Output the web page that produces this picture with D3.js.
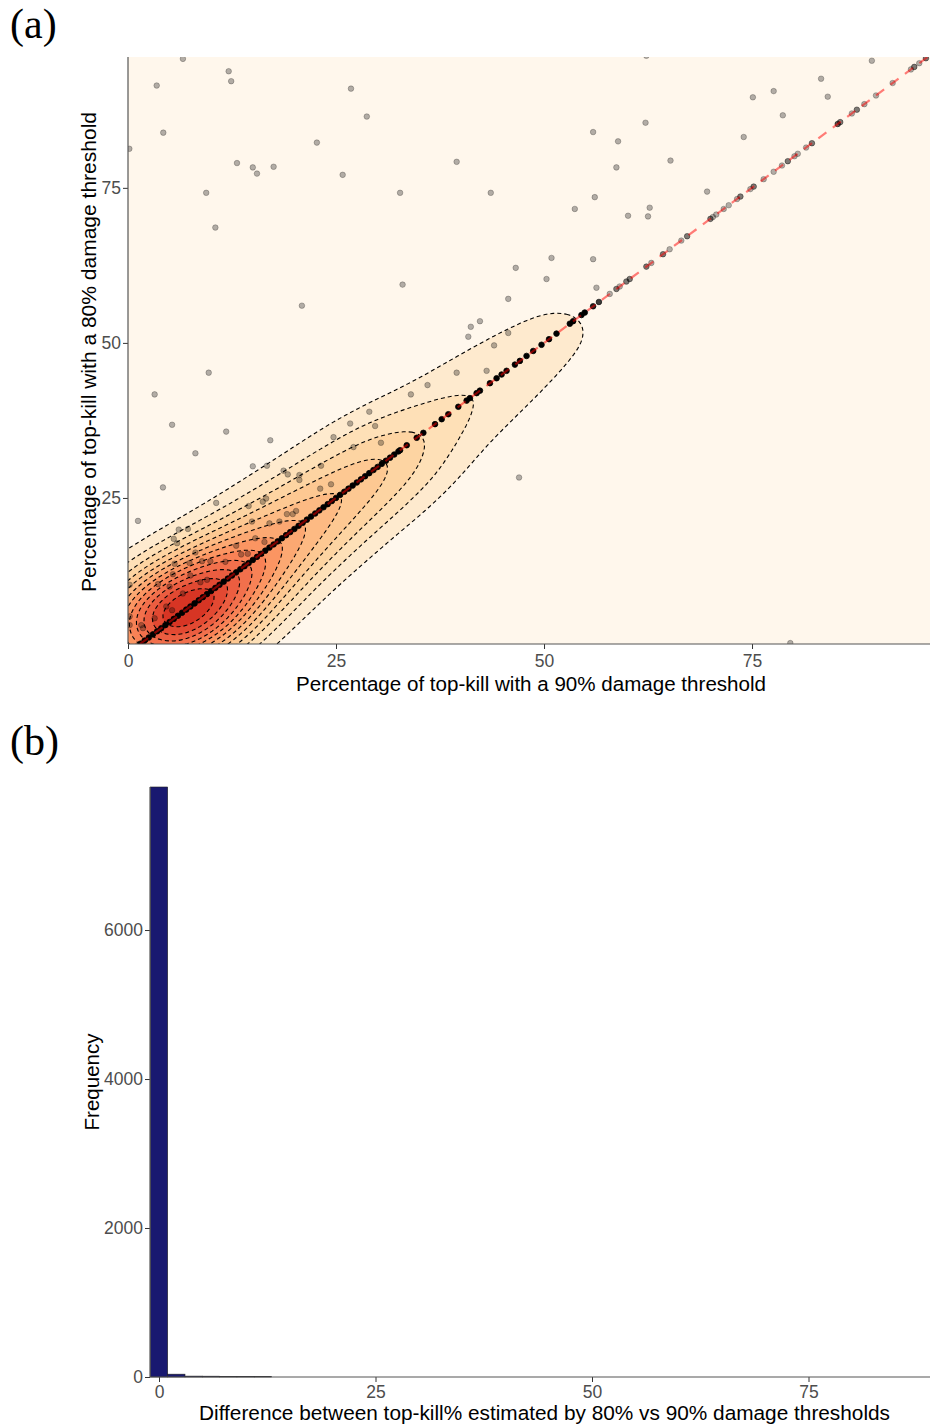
<!DOCTYPE html>
<html><head><meta charset="utf-8">
<script src="https://cdn.jsdelivr.net/npm/d3@7"></script>
<style>body{margin:0;background:#fff}svg{display:block}</style>
</head><body>
<svg id="c" width="930" height="1427"></svg>
<script>
// ---------------- DATA ----------------
// Panel (a): off-diagonal scatter points (x = 90% threshold, y = 80% threshold)
const scatterX = [0.16,6.6,3.45,12.1,12.4,4.24,22.7,13.1,15.0,15.5,17.5,9.4,10.5,20.9,26.8,28.7,25.8,32.7,39.5,43.6,33.0,50.9,46.6,50.3,55.9,56.3,45.7,53.7,56.1,55.9,62.3,62.2,58.9,58.7,65.2,69.6,74.0,75.1,77.6,78.7,83.3,84.1,89.4,60.1,62.5,62.7,
  41.2,42.3,40.9,45.7,44.0,39.5,43.1,36.0,34.0,47.0,79.6,
  9.7,3.2,5.3,11.8,17.1,8.1,4.2,1.2,15.0,16.7,18.7,19.2,20.6,20.6,23.2,24.7,27.1,26.7,29.0,29.7,30.4,23.1,24.4,10.6,14.5,16.2,16.6,19.1,19.8,20.2,14.9,17.0,18.2,5.5,6.1,7.2,5.9,15.3,16.4,13.0,14.4,13.6,8.1,9.9,8.9,11.7,7.4,5.6,3.6,5.4,7.5,8.7,9.5,5.0,6.6,4.6,5.3,3.2,1.6,1.8,0.2,0.2,0.2];
const scatterY = [81.3,95.8,91.5,93.8,92.2,83.9,82.3,79.0,78.3,77.3,78.4,74.2,68.6,56.0,91.0,86.5,77.1,74.2,79.2,74.2,59.4,63.7,62.1,60.3,63.5,58.9,57.1,71.6,73.5,84.0,96.3,85.5,82.5,78.3,79.4,74.4,83.2,89.6,90.6,86.7,92.6,89.7,95.5,70.5,70.4,71.8,
  52.6,53.5,51.0,51.6,49.6,45.2,45.5,43.2,41.7,28.3,1.6,
  45.2,41.7,36.8,35.7,34.3,32.2,26.7,21.3,30.1,30.2,29.4,28.8,28.7,27.9,30.2,34.8,33.2,37.0,38.9,36.6,33.9,26.5,27.2,24.2,23.7,24.4,24.9,22.4,22.4,22.9,21.2,20.9,21.2,18.4,19.9,20.0,17.7,18.5,17.9,17.3,16.0,15.9,16.2,14.8,14.8,14.7,14.5,14.4,11.1,12.7,12.5,11.4,11.8,10.7,9.6,7.5,6.9,5.6,4.5,4.0,4.5,5.9,11.0];
// Panel (a): points lying on the 1:1 line (x = y) and how many trees share each value
const diagValues = [1.0,1.5,2.0,2.5,3.0,3.5,4.0,4.5,5.0,5.5,6.0,6.5,7.0,7.5,8.0,8.5,9.0,9.5,10.0,10.5,11.0,11.5,12.0,12.5,13.0,13.5,14.0,14.5,15.0,15.5,16.0,16.5,17.0,17.5,18.0,18.5,19.0,19.5,20.0,20.5,21.0,21.5,22.0,22.5,23.0,23.5,24.0,24.5,25.0,25.5,26.0,26.5,27.0,27.5,28.0,28.5,29.0,29.5,30.0,30.5,31.0,31.5,32.0,32.5,
  32.7,33.5,34.7,35.5,36.9,37.7,38.5,39.7,40.7,41.1,41.9,42.3,43.5,44.3,44.9,45.5,46.5,47.1,47.9,48.7,49.7,50.6,51.5,53.1,53.5,54.5,54.9,55.9,56.6,
  57.9,58.7,59.1,59.9,60.3,62.3,62.9,64.3,65.1,66.5,67.2,70.0,70.3,70.7,71.6,72.2,73.2,73.6,74.8,75.2,76.4,77.6,78.6,79.3,80.1,80.5,81.5,82.2,85.3,85.6,87.0,87.6,88.5,89.9,91.9,94.1,94.5,95.1,95.9];
const diagCounts = [110,125,140,152,162,170,175,178,180,180,178,175,170,165,160,154,148,142,136,130,124,118,113,108,103,99,95,91,88,85,82,79,77,75,73,71,69,67,66,64,63,62,61,60,59,58,57,56,55,54,53,52,51,50,49,48,47,47,46,45,45,44,43,43,
  70,66,58,54,48,45,42,40,36,34,32,31,30,29,28,27,26,25,25,24,25,28,30,34,30,26,22,6,4,
  1,2,1,2,2,2,1,2,1,1,2,2,1,1,1,1,1,2,1,2,1,1,1,2,1,1,1,2,3,2,1,2,1,1,1,1,2,1,2];
const xTicksA = [0,25,50,75];
const yTicksA = [25,50,75];
// Panel (b): histogram of differences
const binStart  = [-1,1,3,5,7,9,11];
const binEnd    = [1,3,5,7,9,11,13];
const binCounts = [7920,38,12,11,9,8,6];
const xTicksB = [0,25,50,75];
const yTicksB = [0,2000,4000,6000];

// ---------------- DRAW ----------------
const svg = d3.select("#c");
const SANS = "'Liberation Sans', Arial, sans-serif";
const SERIF = "'Liberation Serif', 'Times New Roman', serif";
const tickColor = "#4d4d4d";

// ---- Panel (a)
const A = {l:128, r:930, t:57, b:644};
const xA = d3.scaleLinear([0, 96.39], [A.l, A.r]);
const yA = d3.scaleLinear([1.45, 96.1], [A.b, A.t]);

svg.append("clipPath").attr("id","clipA").append("rect")
  .attr("x",A.l).attr("y",A.t).attr("width",A.r-A.l).attr("height",A.b-A.t);
const gA = svg.append("g");
const plotA = gA.append("g").attr("clip-path","url(#clipA)");

// 2-D kernel density (computed in data space so the kernel is the same in x and y data units)
const pts = [];
scatterX.forEach((x,i)=>pts.push({x, y:scatterY[i], w:1}));
diagValues.forEach((v,i)=>pts.push({x:v, y:v, w:diagCounts[i]}));
const K = 4, OFF = 25;
const dens = d3.contourDensity()
  .x(d=>(d.x+OFF)*K).y(d=>(d.y+OFF)*K).weight(d=>d.w)
  .size([(96.4+2*OFF)*K, (96.4+2*OFF)*K])
  .cellSize(2).bandwidth(5*K);
const cont = dens.contours(pts);
const max = cont.max;
const proj = d3.geoTransform({point(px,py){ this.stream.point(xA(px/K-OFF), yA(py/K-OFF)); }});
const path = d3.geoPath(proj);

const NL = 12;
const levels = d3.range(1, NL+1).map(i=>max*i/(NL+1));
const bandColor = k => d3.interpolateOrRd(0.74*Math.pow(k/NL, 0.8));

plotA.append("rect").attr("x",A.l).attr("y",A.t).attr("width",A.r-A.l).attr("height",A.b-A.t)
  .attr("fill", bandColor(0));
plotA.append("g").selectAll("path").data(levels).join("path")
  .attr("d", t=>path(cont(t))).attr("fill", (t,i)=>bandColor(i+1)).attr("stroke","none");
plotA.append("g").selectAll("path").data(levels).join("path")
  .attr("d", t=>path(cont(t))).attr("fill","none").attr("stroke","#000")
  .attr("stroke-width",1.1).attr("stroke-dasharray","4,3");

// points
plotA.append("g").selectAll("circle").data(scatterX).join("circle")
  .attr("cx",(d)=>xA(d)).attr("cy",(d,i)=>yA(scatterY[i])).attr("r",2.8)
  .attr("fill","#000").attr("fill-opacity",0.3).attr("stroke","#000").attr("stroke-opacity",0.3).attr("stroke-width",0.8);
plotA.append("g").selectAll("circle").data(diagValues).join("circle")
  .attr("cx",d=>xA(d)).attr("cy",d=>yA(d)).attr("r",2.8)
  .attr("fill","#000").attr("fill-opacity",(d,i)=>1-Math.pow(0.7,diagCounts[i]))
  .attr("stroke","#000").attr("stroke-opacity",(d,i)=>1-Math.pow(0.7,diagCounts[i])).attr("stroke-width",0.8);
// 1:1 line
const lo = Math.max(xA.domain()[0], yA.domain()[0]), hi = Math.min(xA.domain()[1], yA.domain()[1]);
plotA.append("line").attr("x1",xA(lo)).attr("y1",yA(lo)).attr("x2",xA(hi)).attr("y2",yA(hi))
  .attr("stroke","red").attr("stroke-opacity",0.5).attr("stroke-width",2.2).attr("stroke-dasharray","10,8");

function styleAxis(g){
  g.select(".domain").remove();
  g.selectAll(".tick line").attr("stroke","#333").attr("stroke-width",1);
  g.selectAll(".tick text").attr("fill",tickColor).style("font-family",SANS).style("font-size","17.5px");
}
const fmt = d3.format("d");
gA.append("g").attr("transform",`translate(0,${A.b})`)
  .call(d3.axisBottom(xA).tickValues(xTicksA).tickFormat(fmt).tickSize(5).tickPadding(6)).call(styleAxis);
gA.append("g").attr("transform",`translate(${A.l},0)`)
  .call(d3.axisLeft(yA).tickValues(yTicksA).tickFormat(fmt).tickSize(5).tickPadding(2)).call(styleAxis);
gA.append("line").attr("x1",A.l).attr("x2",A.l).attr("y1",A.t).attr("y2",A.b).attr("stroke","#555").attr("stroke-width",1.2);
gA.append("line").attr("x1",A.l).attr("x2",A.r).attr("y1",A.b).attr("y2",A.b).attr("stroke","#555").attr("stroke-width",1.2);

gA.append("text").attr("x",531).attr("y",691).attr("text-anchor","middle")
  .style("font-family",SANS).style("font-size","20.5px").attr("fill","#000")
  .attr("textLength",470).attr("lengthAdjust","spacingAndGlyphs")
  .text("Percentage of top-kill with a 90% damage threshold");
gA.append("text").attr("transform","translate(96,352) rotate(-90)").attr("text-anchor","middle")
  .style("font-family",SANS).style("font-size","20.5px").attr("fill","#000")
  .attr("textLength",480).attr("lengthAdjust","spacingAndGlyphs")
  .text("Percentage of top-kill with a 80% damage threshold");
svg.append("text").attr("x",10).attr("y",38).style("font-family",SERIF).style("font-size","42px").text("(a)");

// ---- Panel (b)
const B = {l:150, r:930, t:787, b:1377};
const xB = d3.scaleLinear([-1.04, 89.03], [B.l, B.r]);
const yB = d3.scaleLinear([0, 7920], [B.b, B.t]);
const gB = svg.append("g");
gB.append("g").selectAll("rect").data(binCounts).join("rect")
  .attr("x",(d,i)=>xB(binStart[i])).attr("width",(d,i)=>xB(binEnd[i])-xB(binStart[i]))
  .attr("y",d=>yB(d)).attr("height",d=>yB(0)-yB(d))
  .attr("fill","#191970").attr("stroke","#222").attr("stroke-width",0.6);
gB.append("g").attr("transform",`translate(0,${B.b})`)
  .call(d3.axisBottom(xB).tickValues(xTicksB).tickFormat(fmt).tickSize(5).tickPadding(4)).call(styleAxis);
gB.append("g").attr("transform",`translate(${B.l},0)`)
  .call(d3.axisLeft(yB).tickValues(yTicksB).tickFormat(fmt).tickSize(5).tickPadding(2)).call(styleAxis);
gB.append("line").attr("x1",B.l).attr("x2",B.l).attr("y1",B.t).attr("y2",B.b).attr("stroke","#555").attr("stroke-width",1.2);
gB.append("line").attr("x1",B.l).attr("x2",B.r).attr("y1",B.b).attr("y2",B.b).attr("stroke","#555").attr("stroke-width",1.2);
gB.append("text").attr("x",544.5).attr("y",1420).attr("text-anchor","middle")
  .style("font-family",SANS).style("font-size","20.5px").attr("fill","#000")
  .attr("textLength",691).attr("lengthAdjust","spacingAndGlyphs")
  .text("Difference between top-kill% estimated by 80% vs 90% damage thresholds");
gB.append("text").attr("transform","translate(99,1082) rotate(-90)").attr("text-anchor","middle")
  .style("font-family",SANS).style("font-size","20.5px").attr("fill","#000")
  .text("Frequency");
svg.append("text").attr("x",10).attr("y",755).style("font-family",SERIF).style("font-size","42px").text("(b)");
</script>
</body></html>
